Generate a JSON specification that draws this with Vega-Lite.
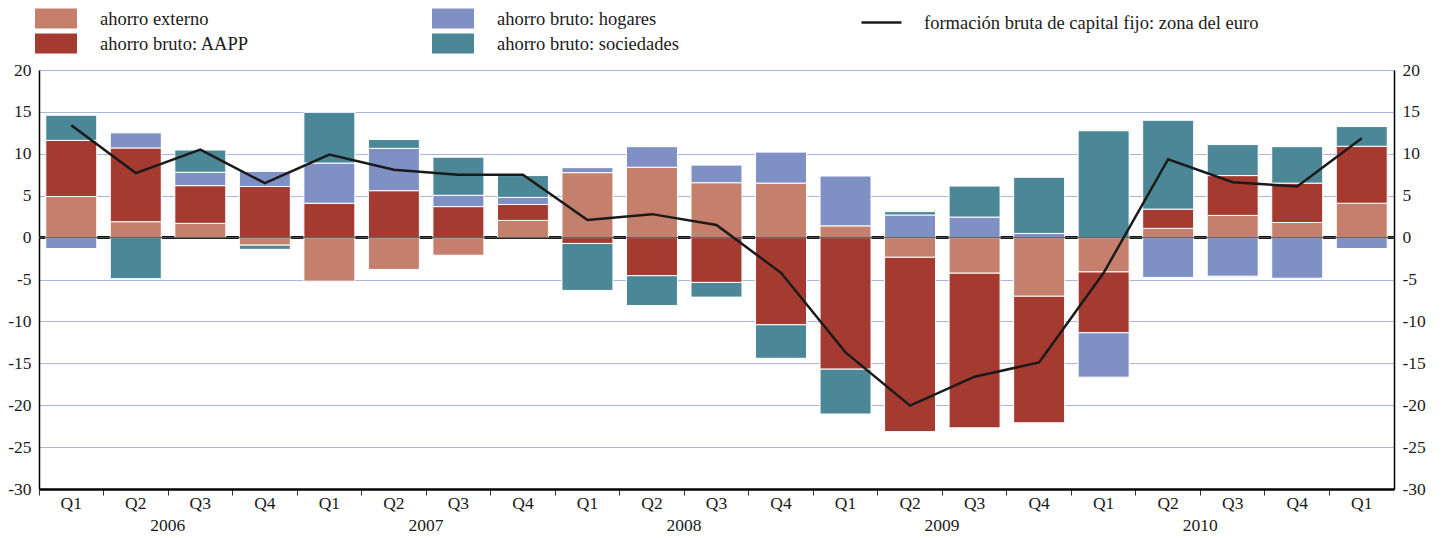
{
  "$schema": "https://vega.github.io/schema/vega-lite/v6.json",
  "autosize": {"type": "none"},
  "width": 1355,
  "height": 419,
  "padding": {"left": 39, "top": 70, "right": 51, "bottom": 49},
  "background": "white",
  "config": {
    "font": "Liberation Serif",
    "view": {"stroke": null},
    "axis": {"labelFont": "Liberation Serif", "labelFontSize": 17.5, "labelColor": "#1a1a1a"},
    "legend": {"labelFont": "Liberation Serif", "labelFontSize": 18.5, "labelColor": "#1a1a1a"}
  },
  "datasets": {
    "bars": [
      {"t": "2006-Q1", "serie": "ahorro externo", "ord": 1, "v": 4.9},
      {"t": "2006-Q1", "serie": "ahorro bruto: AAPP", "ord": 2, "v": 6.7},
      {"t": "2006-Q1", "serie": "ahorro bruto: hogares", "ord": 3, "v": -1.3},
      {"t": "2006-Q1", "serie": "ahorro bruto: sociedades", "ord": 4, "v": 3.0},
      {"t": "2006-Q2", "serie": "ahorro externo", "ord": 1, "v": 1.9},
      {"t": "2006-Q2", "serie": "ahorro bruto: AAPP", "ord": 2, "v": 8.8},
      {"t": "2006-Q2", "serie": "ahorro bruto: hogares", "ord": 3, "v": 1.8},
      {"t": "2006-Q2", "serie": "ahorro bruto: sociedades", "ord": 4, "v": -4.9},
      {"t": "2006-Q3", "serie": "ahorro externo", "ord": 1, "v": 1.7},
      {"t": "2006-Q3", "serie": "ahorro bruto: AAPP", "ord": 2, "v": 4.5},
      {"t": "2006-Q3", "serie": "ahorro bruto: hogares", "ord": 3, "v": 1.6},
      {"t": "2006-Q3", "serie": "ahorro bruto: sociedades", "ord": 4, "v": 2.65},
      {"t": "2006-Q4", "serie": "ahorro externo", "ord": 1, "v": -0.9},
      {"t": "2006-Q4", "serie": "ahorro bruto: AAPP", "ord": 2, "v": 6.1},
      {"t": "2006-Q4", "serie": "ahorro bruto: hogares", "ord": 3, "v": 1.8},
      {"t": "2006-Q4", "serie": "ahorro bruto: sociedades", "ord": 4, "v": -0.5},
      {"t": "2007-Q1", "serie": "ahorro externo", "ord": 1, "v": -5.2},
      {"t": "2007-Q1", "serie": "ahorro bruto: AAPP", "ord": 2, "v": 4.1},
      {"t": "2007-Q1", "serie": "ahorro bruto: hogares", "ord": 3, "v": 4.8},
      {"t": "2007-Q1", "serie": "ahorro bruto: sociedades", "ord": 4, "v": 6.05},
      {"t": "2007-Q2", "serie": "ahorro externo", "ord": 1, "v": -3.8},
      {"t": "2007-Q2", "serie": "ahorro bruto: AAPP", "ord": 2, "v": 5.6},
      {"t": "2007-Q2", "serie": "ahorro bruto: hogares", "ord": 3, "v": 5.05},
      {"t": "2007-Q2", "serie": "ahorro bruto: sociedades", "ord": 4, "v": 1.05},
      {"t": "2007-Q3", "serie": "ahorro externo", "ord": 1, "v": -2.1},
      {"t": "2007-Q3", "serie": "ahorro bruto: AAPP", "ord": 2, "v": 3.7},
      {"t": "2007-Q3", "serie": "ahorro bruto: hogares", "ord": 3, "v": 1.35},
      {"t": "2007-Q3", "serie": "ahorro bruto: sociedades", "ord": 4, "v": 4.55},
      {"t": "2007-Q4", "serie": "ahorro externo", "ord": 1, "v": 2.05},
      {"t": "2007-Q4", "serie": "ahorro bruto: AAPP", "ord": 2, "v": 1.9},
      {"t": "2007-Q4", "serie": "ahorro bruto: hogares", "ord": 3, "v": 0.85},
      {"t": "2007-Q4", "serie": "ahorro bruto: sociedades", "ord": 4, "v": 2.6},
      {"t": "2008-Q1", "serie": "ahorro externo", "ord": 1, "v": 7.75},
      {"t": "2008-Q1", "serie": "ahorro bruto: AAPP", "ord": 2, "v": -0.7},
      {"t": "2008-Q1", "serie": "ahorro bruto: hogares", "ord": 3, "v": 0.6},
      {"t": "2008-Q1", "serie": "ahorro bruto: sociedades", "ord": 4, "v": -5.6},
      {"t": "2008-Q2", "serie": "ahorro externo", "ord": 1, "v": 8.4},
      {"t": "2008-Q2", "serie": "ahorro bruto: AAPP", "ord": 2, "v": -4.55},
      {"t": "2008-Q2", "serie": "ahorro bruto: hogares", "ord": 3, "v": 2.45},
      {"t": "2008-Q2", "serie": "ahorro bruto: sociedades", "ord": 4, "v": -3.55},
      {"t": "2008-Q3", "serie": "ahorro externo", "ord": 1, "v": 6.55},
      {"t": "2008-Q3", "serie": "ahorro bruto: AAPP", "ord": 2, "v": -5.35},
      {"t": "2008-Q3", "serie": "ahorro bruto: hogares", "ord": 3, "v": 2.1},
      {"t": "2008-Q3", "serie": "ahorro bruto: sociedades", "ord": 4, "v": -1.75},
      {"t": "2008-Q4", "serie": "ahorro externo", "ord": 1, "v": 6.5},
      {"t": "2008-Q4", "serie": "ahorro bruto: AAPP", "ord": 2, "v": -10.4},
      {"t": "2008-Q4", "serie": "ahorro bruto: hogares", "ord": 3, "v": 3.7},
      {"t": "2008-Q4", "serie": "ahorro bruto: sociedades", "ord": 4, "v": -4.0},
      {"t": "2009-Q1", "serie": "ahorro externo", "ord": 1, "v": 1.4},
      {"t": "2009-Q1", "serie": "ahorro bruto: AAPP", "ord": 2, "v": -15.7},
      {"t": "2009-Q1", "serie": "ahorro bruto: hogares", "ord": 3, "v": 5.95},
      {"t": "2009-Q1", "serie": "ahorro bruto: sociedades", "ord": 4, "v": -5.35},
      {"t": "2009-Q2", "serie": "ahorro externo", "ord": 1, "v": -2.35},
      {"t": "2009-Q2", "serie": "ahorro bruto: AAPP", "ord": 2, "v": -20.8},
      {"t": "2009-Q2", "serie": "ahorro bruto: hogares", "ord": 3, "v": 2.7},
      {"t": "2009-Q2", "serie": "ahorro bruto: sociedades", "ord": 4, "v": 0.4},
      {"t": "2009-Q3", "serie": "ahorro externo", "ord": 1, "v": -4.25},
      {"t": "2009-Q3", "serie": "ahorro bruto: AAPP", "ord": 2, "v": -18.45},
      {"t": "2009-Q3", "serie": "ahorro bruto: hogares", "ord": 3, "v": 2.45},
      {"t": "2009-Q3", "serie": "ahorro bruto: sociedades", "ord": 4, "v": 3.7},
      {"t": "2009-Q4", "serie": "ahorro externo", "ord": 1, "v": -7.0},
      {"t": "2009-Q4", "serie": "ahorro bruto: AAPP", "ord": 2, "v": -15.1},
      {"t": "2009-Q4", "serie": "ahorro bruto: hogares", "ord": 3, "v": 0.5},
      {"t": "2009-Q4", "serie": "ahorro bruto: sociedades", "ord": 4, "v": 6.7},
      {"t": "2010-Q1", "serie": "ahorro externo", "ord": 1, "v": -4.1},
      {"t": "2010-Q1", "serie": "ahorro bruto: AAPP", "ord": 2, "v": -7.25},
      {"t": "2010-Q1", "serie": "ahorro bruto: hogares", "ord": 3, "v": -5.3},
      {"t": "2010-Q1", "serie": "ahorro bruto: sociedades", "ord": 4, "v": 12.75},
      {"t": "2010-Q2", "serie": "ahorro externo", "ord": 1, "v": 1.1},
      {"t": "2010-Q2", "serie": "ahorro bruto: AAPP", "ord": 2, "v": 2.3},
      {"t": "2010-Q2", "serie": "ahorro bruto: hogares", "ord": 3, "v": -4.75},
      {"t": "2010-Q2", "serie": "ahorro bruto: sociedades", "ord": 4, "v": 10.6},
      {"t": "2010-Q3", "serie": "ahorro externo", "ord": 1, "v": 2.65},
      {"t": "2010-Q3", "serie": "ahorro bruto: AAPP", "ord": 2, "v": 4.75},
      {"t": "2010-Q3", "serie": "ahorro bruto: hogares", "ord": 3, "v": -4.6},
      {"t": "2010-Q3", "serie": "ahorro bruto: sociedades", "ord": 4, "v": 3.7},
      {"t": "2010-Q4", "serie": "ahorro externo", "ord": 1, "v": 1.8},
      {"t": "2010-Q4", "serie": "ahorro bruto: AAPP", "ord": 2, "v": 4.7},
      {"t": "2010-Q4", "serie": "ahorro bruto: hogares", "ord": 3, "v": -4.85},
      {"t": "2010-Q4", "serie": "ahorro bruto: sociedades", "ord": 4, "v": 4.35},
      {"t": "2011-Q1", "serie": "ahorro externo", "ord": 1, "v": 4.1},
      {"t": "2011-Q1", "serie": "ahorro bruto: AAPP", "ord": 2, "v": 6.8},
      {"t": "2011-Q1", "serie": "ahorro bruto: hogares", "ord": 3, "v": -1.3},
      {"t": "2011-Q1", "serie": "ahorro bruto: sociedades", "ord": 4, "v": 2.35}
    ],
    "linea": [
      {"t": "2006-Q1", "v": 13.4},
      {"t": "2006-Q2", "v": 7.7},
      {"t": "2006-Q3", "v": 10.5},
      {"t": "2006-Q4", "v": 6.5},
      {"t": "2007-Q1", "v": 9.9},
      {"t": "2007-Q2", "v": 8.1},
      {"t": "2007-Q3", "v": 7.5},
      {"t": "2007-Q4", "v": 7.5},
      {"t": "2008-Q1", "v": 2.1},
      {"t": "2008-Q2", "v": 2.8},
      {"t": "2008-Q3", "v": 1.5},
      {"t": "2008-Q4", "v": -4.2},
      {"t": "2009-Q1", "v": -13.7},
      {"t": "2009-Q2", "v": -20.05},
      {"t": "2009-Q3", "v": -16.6},
      {"t": "2009-Q4", "v": -14.9},
      {"t": "2010-Q1", "v": -4.2},
      {"t": "2010-Q2", "v": 9.35},
      {"t": "2010-Q3", "v": 6.6},
      {"t": "2010-Q4", "v": 6.1},
      {"t": "2011-Q1", "v": 11.85}
    ],
    "cero": [{"z": 0}]
  },
  "layer": [
    {
      "data": {"name": "cero"},
      "mark": {"type": "rule", "color": "#111", "strokeWidth": 3},
      "encoding": {"y": {"field": "z", "type": "quantitative", "axis": null}}
    },
    {
      "data": {"name": "bars"},
      "mark": {"type": "bar", "stroke": "white", "strokeWidth": 1, "width": {"band": 0.79}},
      "encoding": {
        "x": {
          "field": "t", "type": "ordinal", "sort": null,
          "scale": {"paddingInner": 0, "paddingOuter": 0},
          "axis": {
            "title": null, "orient": "bottom", "bandPosition": 0, "labelAngle": 0,
            "labelExpr": "split(datum.value, '-')[1]",
            "domainColor": "black", "domainWidth": 2.5, "tickColor": "#333", "tickSize": 6, "tickWidth": 1,
            "labelPadding": -1
          }
        },
        "y": {
          "field": "v", "type": "quantitative", "stack": "zero",
          "scale": {"domain": [-30, 20], "nice": false},
          "axis": {
            "title": null, "orient": "left", "values": [-30, -25, -20, -15, -10, -5, 0, 5, 10, 15, 20],
            "labelExpr": "'' + datum.value",
            "grid": true, "gridColor": "#a9b6de", "gridWidth": 1.2,
            "domainColor": "black", "domainWidth": 1.5, "ticks": false,
            "labelPadding": 8
          }
        },
        "color": {
          "field": "serie", "type": "nominal",
          "scale": {
            "domain": ["ahorro externo", "ahorro bruto: hogares", "ahorro bruto: AAPP", "ahorro bruto: sociedades"],
            "range": ["#c4806c", "#7f91c4", "#a53a31", "#4b8796"]
          },
          "legend": {
            "title": null, "orient": "none", "legendX": 7, "legendY": -61.5, "columns": 2,
            "direction": "horizontal",
            "symbolType": "M-2.1,-1H2.1V1H-2.1Z", "symbolSize": 400, "symbolStrokeWidth": 0,
            "symbolOpacity": 1, "labelOffset": 34, "columnPadding": 182, "rowPadding": 5,
            "labelLimit": 400
          }
        },
        "order": {"field": "ord", "type": "quantitative"}
      }
    },
    {
      "data": {"name": "cero"},
      "mark": {"type": "rule", "color": "#555", "strokeWidth": 1},
      "encoding": {"y": {"field": "z", "type": "quantitative", "axis": null}}
    },
    {
      "data": {"name": "linea"},
      "mark": {"type": "line", "strokeWidth": 2.5},
      "encoding": {
        "x": {
          "field": "t", "type": "ordinal", "sort": null,
          "axis": {
            "title": null, "orient": "bottom", "labelAngle": 0, "ticks": false, "domain": false, "labelPadding": 27,
            "labelOffset": 32,
            "labelExpr": "split(datum.value, '-')[1] == 'Q2' ? split(datum.value, '-')[0] : ''"
          }
        },
        "y": {
          "field": "v", "type": "quantitative",
          "axis": {
            "title": null, "orient": "right", "values": [-30, -25, -20, -15, -10, -5, 0, 5, 10, 15, 20],
            "labelExpr": "'' + datum.value",
            "grid": false, "domainColor": "black", "domainWidth": 1.5, "ticks": false,
            "labelPadding": 8
          }
        },
        "stroke": {
          "datum": "formación bruta de capital fijo: zona del euro",
          "scale": {"range": ["#1a1a1a"]},
          "legend": {
            "title": null, "orient": "none", "legendX": 821, "legendY": -69,
            "symbolType": "stroke", "symbolSize": 1600, "symbolStrokeWidth": 2.5, "labelOffset": 21,
            "labelLimit": 500
          }
        }
      }
    }
  ],
  "resolve": {"axis": {"x": "independent", "y": "independent"}}
}
